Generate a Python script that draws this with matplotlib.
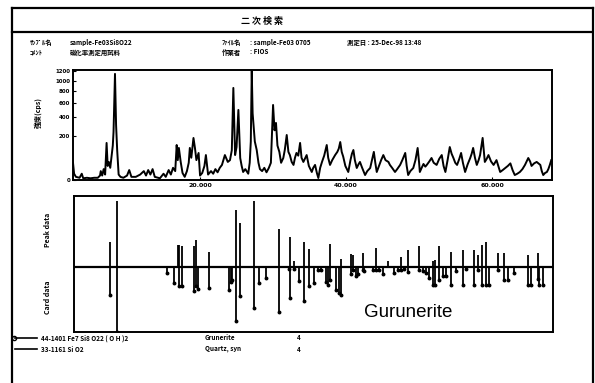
import numpy as np
import matplotlib
matplotlib.use("Agg")
import matplotlib.pyplot as plt

plt.rcParams['font.family'] = ['Noto Sans CJK JP', 'DejaVu Sans']

two_theta = [
    2.6, 2.75, 3.0, 3.5, 3.8, 4.0, 4.5, 5.0, 5.5, 6.0, 6.3, 6.4, 6.6, 6.8, 7.0, 7.2, 7.35, 7.5, 7.7, 7.9,
    8.05, 8.15, 8.35, 8.5, 8.65, 8.85, 9.1, 9.5, 10.0, 10.3, 10.6, 11.2, 11.8, 12.3, 12.6, 12.9, 13.2, 13.5,
    13.8, 14.5, 15.0, 15.3, 15.7, 16.0, 16.3, 16.6, 16.8, 16.95, 17.1, 17.35, 17.6, 17.9, 18.2, 18.45, 18.6,
    18.8, 19.1, 19.3, 19.5, 19.8, 20.0, 20.3, 20.6, 20.8, 21.1, 21.5, 21.8, 22.1, 22.4, 22.7, 23.0, 23.4, 23.8,
    24.1, 24.35, 24.56, 24.8, 25.0, 25.25, 25.5, 25.7, 25.9, 26.2, 26.6, 26.8, 26.95, 27.08, 27.2, 27.3, 27.5,
    27.76, 28.0, 28.2, 28.5, 28.8, 29.1, 29.4, 29.7, 30.0, 30.2, 30.4, 30.6, 30.86, 31.1, 31.4, 31.6, 31.87,
    32.1, 32.3, 32.55, 32.8, 33.0, 33.2, 33.45, 33.7, 33.9, 34.15, 34.35, 34.6, 34.9, 35.3, 35.5, 35.75, 36.0,
    36.2, 36.45, 36.7, 37.0, 37.35, 37.55, 37.8, 38.1, 38.5, 38.8, 39.0, 39.2, 39.4, 39.6, 39.9, 40.3, 40.6,
    40.8, 41.0, 41.2, 41.46, 41.7, 41.9, 42.2, 42.6, 42.9, 43.3, 43.55, 43.8, 44.0, 44.2, 44.5, 44.8, 45.1,
    45.4, 45.8, 46.0, 46.3, 46.7, 47.0, 47.4, 47.7, 48.1, 48.3, 48.5, 48.8, 49.2, 49.5, 49.8, 50.0, 50.1,
    50.35, 50.6, 50.85, 51.05, 51.4, 51.7, 52.0, 52.4, 52.75, 53.1, 53.35, 53.6, 53.9, 54.2, 54.45, 54.7,
    54.95, 55.2, 55.5, 55.75, 56.0, 56.3, 56.65, 57.0, 57.2, 57.4, 57.65, 57.9, 58.15, 58.35, 58.7, 59.0,
    59.25, 59.5, 59.85, 60.2, 60.6, 60.85, 61.1, 61.45, 61.8, 62.15, 62.5, 62.8, 63.1, 63.45, 63.8, 64.15,
    64.5, 64.95, 65.2, 65.4, 65.75, 66.1, 66.35, 66.6, 66.8, 67.0, 67.25, 67.5, 67.7, 67.9, 68.1,
]
cps = [
    30, 4, 1, 0.5, 4, 0.3, 0.5, 0.3, 0.5, 0.5, 2, 8, 2, 12, 3, 139, 20, 33, 15, 63,
    120, 233, 1140, 307, 90, 3, 1, 0.5, 2, 10, 1, 1, 3, 8, 2, 10, 3, 12,
    1, 0.3, 4, 1, 10, 3, 15, 8, 124, 40, 104, 33, 5, 1, 8, 30, 104,
    50, 179, 104, 40, 74, 2, 5, 20, 63, 3, 8, 4, 12, 6, 15, 23, 63, 33,
    40, 90, 858, 63, 110, 497, 49, 20, 6.5, 12, 4, 30, 150, 1205, 450, 330, 150,
    91, 30, 12, 8, 15, 6, 14, 30, 570, 250, 330, 120, 80, 30, 49, 90, 205,
    80, 63, 33, 23, 50, 74, 60, 139, 50, 33, 45, 63, 20, 6.5, 15, 23, 5,
    0.4, 15, 33, 60, 124, 50, 23, 40, 63, 80, 100, 146, 80, 56, 20, 6.5, 40,
    70, 91, 40, 14.6, 25, 33, 15, 2.5, 8, 14.6, 40, 80, 30, 6.5, 20, 40, 63,
    40, 33, 23, 15, 6.5, 12, 23, 40, 74, 20, 2.5, 8, 14.6, 40, 104, 30, 6.5,
    15, 26, 18, 23, 35, 49, 30, 23, 45, 63, 20, 6.5, 40, 110, 70, 49,
    30, 23, 45, 74, 30, 6.5, 25, 49, 70, 104, 50, 23, 40, 63, 179, 33,
    45, 63, 35, 23, 40, 20, 6.5, 10, 14.6, 20, 28, 10, 2.5, 4, 6.5, 12,
    23, 49, 35, 20, 28, 33, 28, 23, 8, 2.5, 5, 6.5, 12, 23, 40,
]

# peak data (drawn upward, %)
peak_pos = [7.57, 8.45, 16.8, 16.98, 17.35, 19.0, 19.31, 21.13, 24.79, 25.38, 27.19, 30.72, 32.12, 32.69,
            34.07, 34.83, 37.7, 39.18, 40.55, 40.78, 42.15, 43.97, 45.57, 47.39, 48.31, 49.9, 51.74, 52.05,
            52.64, 54.24, 55.85, 57.35, 57.9, 58.45, 59.04, 60.64, 61.55, 64.75, 66.12]
peak_int = [37, 100, 33, 33, 32, 31, 41, 23, 87, 67, 100, 58, 46, 9,
            37, 27, 34, 11, 19, 18, 21, 29, 8, 15, 26, 31, 8, 10,
            31, 23, 26, 26, 18, 33, 38, 21, 21, 18, 21]

# card data (drawn downward, %)
card_pos = [7.57, 8.45, 15.34, 16.34, 16.98, 17.35, 19.0, 19.31, 19.63, 21.13, 23.87, 24.1, 24.24, 24.79,
            25.38, 27.19, 27.9, 28.9, 30.72, 31.98, 32.12, 32.69, 33.46, 34.07, 34.83, 35.52, 35.98, 36.44,
            37.12, 37.35, 37.7, 38.49, 38.94, 39.18, 40.55, 40.78, 41.23, 41.46, 42.15, 42.37, 43.52, 43.97,
            44.42, 44.89, 46.48, 46.94, 47.39, 47.85, 48.31, 49.9, 50.37, 50.82, 51.23, 51.74, 52.05, 52.64,
            53.11, 53.56, 54.24, 54.93, 55.85, 56.3, 57.35, 57.9, 58.45, 59.04, 59.49, 60.64, 61.55, 62.01,
            62.92, 64.75, 65.2, 66.12, 66.34, 66.8]
card_int = [44, 100, 10, 25, 29, 29, 38, 30, 34, 33, 36, 24, 20, 83,
            45, 64, 25, 17, 69, 3, 48, 3, 22, 53, 30, 25, 5, 5,
            24, 28, 20, 35, 40, 43, 12, 5, 14, 12, 5, 6, 5, 5,
            5, 12, 10, 5, 5, 3, 8, 5, 6, 10, 17, 28, 28, 21,
            14, 14, 28, 6, 28, 3, 28, 5, 28, 28, 28, 5, 21, 21,
            10, 28, 28, 19, 28, 28]

y_ticks = [0, 200, 400, 600, 800, 1000, 1200]
x_ticks = [20, 40, 60]

W, H = 595, 383


def box(l, t, r, b):
    return [l / W, 1 - b / H, (r - l) / W, (b - t) / H]


fig = plt.figure(figsize=(5.95, 3.83), dpi=100)

# page furniture in pixel coordinates
page = fig.add_axes([0, 0, 1, 1])
page.set_xlim(0, W)
page.set_ylim(H, 0)
page.axis('off')
lw_frame = 1.6
page.plot([12, 593], [8, 8], color='k', lw=lw_frame)
page.plot([12, 12], [8, 383], color='k', lw=lw_frame)
page.plot([593, 593], [8, 383], color='k', lw=lw_frame)
page.plot([12, 591], [32, 32], color='k', lw=lw_frame)

page.text(262, 21, '二 次 検 索', ha='center', va='center', fontsize=6.5, fontweight='bold')
hdr = dict(fontsize=4.6, fontweight='bold', va='center', ha='left')
page.text(30, 42, 'ｻﾝﾌﾟﾙ名', **hdr)
page.text(70, 42, 'sample-Fe03Si8O22', **hdr)
page.text(222, 42, 'ﾌｧｲﾙ名', **hdr)
page.text(250, 42, ': sample-Fe03 0705', **hdr)
page.text(347, 42, '測定日 : 25-Dec-98 13:48', **hdr)
page.text(30, 52, 'ｺﾒﾝﾄ', **hdr)
page.text(70, 52, '磁化率測定用試料', **hdr)
page.text(222, 52, '作業者', **hdr)
page.text(250, 52, ': FIOS', **hdr)

page.text(38, 112, '強度(cps)', rotation=90, ha='center', va='center', fontsize=5, fontweight='bold')
page.text(48, 230, 'Peak data', rotation=90, ha='center', va='center', fontsize=5, fontweight='bold')
page.text(48, 297, 'Card data', rotation=90, ha='center', va='center', fontsize=5, fontweight='bold')

leg = dict(fontsize=4.6, fontweight='bold', va='center', ha='left')
page.plot([15, 37], [338, 338], color='k', lw=1.2)
page.plot([14], [338], marker='o', ms=3, mfc='none', mec='k', mew=1)
page.text(41, 338, '44-1401 Fe7 Si8 O22 ( O H )2', **leg)
page.text(205, 338, 'Grunerite', **leg)
page.text(297, 338, '4', **leg)
page.plot([15, 37], [349, 349], color='k', lw=1.2)
page.text(41, 349, '33-1161 Si O2', **leg)
page.text(205, 349, 'Quartz, syn', **leg)
page.text(297, 349, '4', **leg)

# upper panel: measured pattern, square-root intensity axis
ax = fig.add_axes(box(73, 70, 552, 180))
ax.set_yscale('function', functions=(lambda v: np.sqrt(np.clip(v, 0, None)), lambda v: v ** 2))
ax.plot(two_theta, cps, color='k', lw=1.4)
ax.set_xlim(2.6, 68.2)
ax.set_ylim(0, 1225)
ax.set_yticks(y_ticks)
ax.set_yticklabels([str(v) for v in y_ticks], fontsize=4, fontweight='bold', family='DejaVu Sans')
ax.set_xticks(x_ticks)
ax.set_xticklabels([f'{v:.3f}' for v in x_ticks], fontsize=4.5, fontweight='bold', family='DejaVu Sans')
ax.tick_params(direction='in', length=2, width=0.8, pad=2)
for s in ax.spines.values():
    s.set_linewidth(1.4)

# lower panel: peak data up, card data down
bx = fig.add_axes(box(74, 196, 553, 332))
bx.axhline(0, color='k', lw=1.6)
bx.vlines(peak_pos, 0, peak_int, color='k', lw=1.3)
bx.vlines(card_pos, 0, [-v for v in card_int], color='k', lw=1.3)
bx.plot(card_pos, [-v for v in card_int], 'o', color='k', ms=1.8)
bx.set_xlim(2.6, 68.2)
bx.set_ylim(-100, 108)
bx.set_xticks([])
bx.set_yticks([])
for s in bx.spines.values():
    s.set_linewidth(1.4)
bx.text(48.3, -70, 'Gurunerite', ha='center', va='center', fontsize=13.5,
        family='Liberation Sans')

fig.savefig('out.png', dpi=100)
